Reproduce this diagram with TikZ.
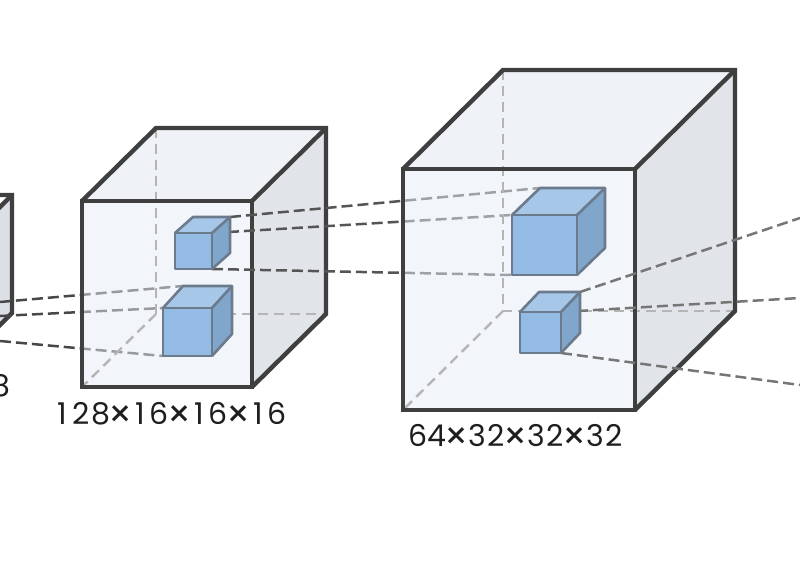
\documentclass[tikz,border=0pt]{standalone}
\usepackage{fontspec}
\setmainfont{Poppins}
\definecolor{edgecol}{HTML}{3F3F3F}
\definecolor{hidcol}{HTML}{B5B5B5}
\definecolor{frontcol}{HTML}{E7EDF5}
\definecolor{topcol}{HTML}{E1E7EF}
\definecolor{rightcol}{HTML}{C5CBD5}
\definecolor{sfront}{HTML}{93BBE3}
\definecolor{stop}{HTML}{A7C7E8}
\definecolor{sright}{HTML}{80A6CC}
\definecolor{sedge}{HTML}{6B7B8C}
\definecolor{linkdark}{HTML}{484848}
\definecolor{linkmid}{HTML}{555555}
\definecolor{linklight}{HTML}{767676}
\definecolor{textcol}{HTML}{1E1E1E}
\newcommand{\cubecoords}[7]{%
 \coordinate (#1-ftl) at (#2,#3);
 \coordinate (#1-ftr) at ({#2+#4},#3);
 \coordinate (#1-fbr) at ({#2+#4},{#3+#5});
 \coordinate (#1-fbl) at (#2,{#3+#5});
 \coordinate (#1-btl) at ({#2+#6},{#3+#7});
 \coordinate (#1-btr) at ({#2+#4+#6},{#3+#7});
 \coordinate (#1-bbr) at ({#2+#4+#6},{#3+#5+#7});
 \coordinate (#1-bbl) at ({#2+#6},{#3+#5+#7});}
\newcommand{\cubefaces}[4]{%
 \fill[#2] (#1-ftl) -- (#1-ftr) -- (#1-fbr) -- (#1-fbl) -- cycle;
 \fill[#3] (#1-ftl) -- (#1-btl) -- (#1-btr) -- (#1-ftr) -- cycle;
 \fill[#4] (#1-ftr) -- (#1-btr) -- (#1-bbr) -- (#1-fbr) -- cycle;}
\newcommand{\cubeedges}[2]{%
 \draw[#2] (#1-ftl) -- (#1-ftr) -- (#1-fbr) -- (#1-fbl) -- cycle;
 \draw[#2] (#1-ftl) -- (#1-btl) -- (#1-btr) -- (#1-bbr) -- (#1-fbr);
 \draw[#2] (#1-btr) -- (#1-ftr);}
\newcommand{\cubehidden}[2]{%
 \draw[#2] (#1-btl) -- (#1-bbl) -- (#1-bbr);
 \draw[#2] (#1-bbl) -- (#1-fbl);}
\newcommand{\smallcube}[1]{%
 \cubefaces{#1}{sfront}{stop}{sright}%
 \cubeedges{#1}{sedge,line width=2.6pt,line join=round}}
\newcommand{\lbd}[1]{\makebox[19pt][c]{#1}}
\newcommand{\lbx}{\makebox[21pt][c]{\raisebox{-2.6pt}{\scalebox{1.25}{×}}}}
\tikzset{
 bigedge/.style={edgecol,line width=4.4pt,line join=miter},
 hidden/.style={hidcol,line width=2.4pt,dash pattern=on 10pt off 6pt},
 bigfront/.style={frontcol,fill opacity=0.5},
 bigtop/.style={topcol,fill opacity=0.5},
 bigright/.style={rightcol,fill opacity=0.5},
 linkA/.style={linkdark,line width=2.5pt,dash pattern=on 11pt off 5pt},
 linkB/.style={linkmid,line width=2.5pt,dash pattern=on 11pt off 5pt},
 linkC/.style={linklight,line width=2.5pt,dash pattern=on 11pt off 5pt},
 lbl/.style={font=\fontsize{30}{32}\selectfont,text=textcol,inner sep=0pt}
}
\begin{document}
\begin{tikzpicture}[x=1pt,y=-1pt]
\useasboundingbox (0,0) rectangle (800,577);
\clip (0,0) rectangle (800,577);
\fill[white] (0,0) rectangle (800,577);
% coordinates
\cubecoords{c1}{-180}{268}{119}{118}{73}{-73}
\cubecoords{c2}{82}{201}{170}{186}{74}{-73}
\cubecoords{c3}{403}{169}{232}{241}{100}{-99}
\cubecoords{s2a}{175}{233}{37}{36}{18}{-16}
\cubecoords{s2b}{163}{308}{49}{48}{20}{-22}
\cubecoords{s3a}{512}{215}{65}{60}{28}{-27}
\cubecoords{s3b}{520}{312}{41}{41}{19}{-20}
\coordinate (L1) at (0,302);
\coordinate (L2) at (0,316);
\coordinate (L3) at (0,341);
\coordinate (R1) at (800,218);
\coordinate (R2) at (800,298);
\coordinate (R3) at (800,385);
% left cube
\fill[fill=rightcol!60!white] (c1-ftr) -- (c1-btr) -- (c1-bbr) -- (c1-fbr) -- cycle;
\cubeedges{c1}{bigedge}
\node[lbl,anchor=east] (lab1) at (11,386) {8};
% links from left cube
\draw[linkA] (L1) -- (s2b-btl);
\draw[linkA] (L2) -- (s2b-ftl);
\draw[linkA] (L3) -- (s2b-fbl);
% cube 2
\cubefaces{c2}{bigfront}{bigtop}{bigright}
\cubehidden{c2}{hidden}
\cubeedges{c2}{bigedge}
% links cube2 -> cube3
\draw[linkB] (s2a-btr) -- (s3a-btl);
\draw[linkB] (s2a-ftr) -- (s3a-ftl);
\draw[linkB] (s2a-fbr) -- (s3a-fbl);
\smallcube{s2a}
\smallcube{s2b}
% cube 3
\cubefaces{c3}{bigfront}{bigtop}{bigright}
\cubehidden{c3}{hidden}
\cubeedges{c3}{bigedge}
% links out of cube 3
\draw[linkC] (s3b-btr) -- (R1);
\draw[linkC] (s3b-ftr) -- (R2);
\draw[linkC] (s3b-fbr) -- (R3);
\smallcube{s3a}
\smallcube{s3b}
% labels
\node[lbl] (lab2) at (170,415) {\lbd1\lbd2\lbd8\lbx\lbd1\lbd6\lbx\lbd1\lbd6\lbx\lbd1\lbd6};
\node[lbl] (lab3) at (516,437) {\lbd6\lbd4\lbx\lbd3\lbd2\lbx\lbd3\lbd2\lbx\lbd3\lbd2};
\end{tikzpicture}
\end{document}
